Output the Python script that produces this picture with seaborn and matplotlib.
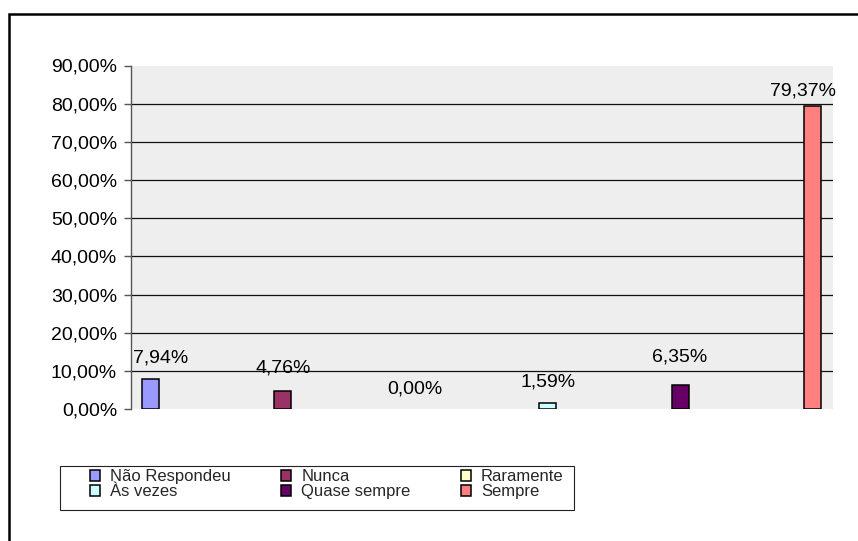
import matplotlib
matplotlib.use("Agg")
import matplotlib.pyplot as plt
from matplotlib.patches import Patch, Rectangle
import seaborn as sns

categories = ["Não Respondeu", "Nunca", "Raramente", "Às vezes", "Quase sempre", "Sempre"]
values = [7.94, 4.76, 0.00, 1.59, 6.35, 79.37]
colors = ["#9999FF", "#993366", "#FFFFCC", "#CCFFFF", "#660066", "#FF8080"]
yticks = [0, 10, 20, 30, 40, 50, 60, 70, 80, 90]

# vertical offset (pixels) of each value label above its bar, as placed in the reference
label_offsets_px = [21, 23, 20, 21, 28, 15]


def fmt(v):
    return f"{v:.2f}".replace(".", ",") + "%"


sns.set_style("white")
plt.rcParams["font.family"] = ["Liberation Sans", "DejaVu Sans"]

W, H = 858, 541
fig = plt.figure(figsize=(W / 100, H / 100), dpi=100)
ax = fig.add_axes([131 / W, 1 - 409 / H, (833 - 131) / W, (409 - 65.5) / H])
ax.set_facecolor("#eeeeee")

sns.barplot(x=categories, y=values, hue=categories, order=categories,
            hue_order=categories, palette=dict(zip(categories, colors)),
            width=0.128, dodge=False, saturation=1, edgecolor="black",
            linewidth=1.1, legend=False, ax=ax, zorder=2)

for p in ax.patches:
    if p.get_height() == 0:
        p.set_visible(False)

ax.set_xlim(-0.147, 5.155)
ax.set_ylim(yticks[0], yticks[-1])
ax.set_yticks(yticks)
ax.set_yticklabels([fmt(t) for t in yticks], fontsize=14)
ax.set_xticks([])
ax.set_xlabel("")
ax.set_ylabel("")

for t in yticks[1:-1]:
    ax.axhline(t, color="#111111", lw=0.9, zorder=1)

for s in ["top", "right", "bottom"]:
    ax.spines[s].set_visible(False)
ax.spines["left"].set_color("#555555")
ax.spines["left"].set_linewidth(1.0)
ax.tick_params(axis="y", direction="out", length=5, width=1.0,
               color="#555555", pad=5, labelcolor="black", left=True)

texts = []
for i, v in enumerate(values):
    off = label_offsets_px[i] * 72 / 100
    t = ax.annotate(fmt(v), (i, v), xytext=(0, off), textcoords="offset points",
                    ha="center", va="center", fontsize=14, color="black")
    texts.append((t, off))

fig.canvas.draw()
r = fig.canvas.get_renderer()
axbb = ax.get_window_extent(r)
for t, off in texts:
    bb = t.get_window_extent(r)
    dx = 0
    if bb.x0 < axbb.x0 + 2:
        dx = axbb.x0 + 2 - bb.x0
    elif bb.x1 > axbb.x1 + 3:
        dx = axbb.x1 + 3 - bb.x1
    if dx:
        t.xyann = (dx * 72 / 100, off)

handles = [Patch(facecolor=c, edgecolor="black", linewidth=1.1, label=cat)
           for cat, c in zip(categories, colors)]
order = [0, 3, 1, 4, 2, 5]
fig.legend([handles[k] for k in order], [categories[k] for k in order],
           loc="upper left", bbox_to_anchor=(90 / W, 1 - 469 / H), ncol=3,
           frameon=False, fontsize=12, handlelength=0.62, handleheight=0.62,
           handletextpad=0.6, columnspacing=3.0, labelspacing=0.0,
           borderpad=0, borderaxespad=0)

fig.patches.append(Rectangle((60 / W, 1 - 510 / H), (574 - 60) / W, 44 / H,
                             transform=fig.transFigure, fill=False,
                             edgecolor="#222222", lw=0.8))
fig.patches.append(Rectangle((9 / W, -0.2), 1.2, 1.2 - 14 / H,
                             transform=fig.transFigure, fill=False,
                             edgecolor="black", lw=1.8))

fig.savefig("out.png", dpi=100)
